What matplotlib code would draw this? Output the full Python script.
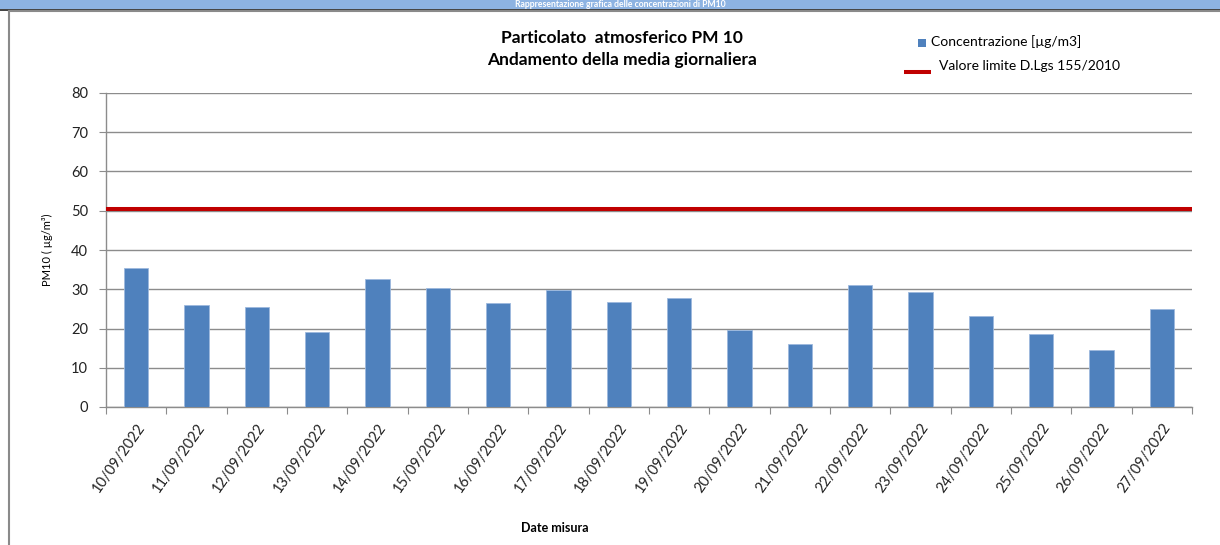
import matplotlib
matplotlib.use("Agg")
import matplotlib.pyplot as plt
from matplotlib.patches import Rectangle
from matplotlib.lines import Line2D

dates = ["10/09/2022", "11/09/2022", "12/09/2022", "13/09/2022", "14/09/2022",
         "15/09/2022", "16/09/2022", "17/09/2022", "18/09/2022", "19/09/2022",
         "20/09/2022", "21/09/2022", "22/09/2022", "23/09/2022", "24/09/2022",
         "25/09/2022", "26/09/2022", "27/09/2022"]
concentrazione = [35.5, 25.9, 25.4, 19.2, 32.6, 30.2, 26.6, 29.8, 26.8, 27.8,
                  19.7, 16.1, 31.1, 29.3, 23.2, 18.6, 14.6, 25.0]
limite = 50.5
yticks = [0, 10, 20, 30, 40, 50, 60, 70, 80]

plt.rcParams['font.family'] = ['Lato', 'DejaVu Sans']

fig = plt.figure(figsize=(12.2, 5.45), dpi=100)

# banner
fig.patches.append(Rectangle((0, 1 - 9/545), 1, 9/545, transform=fig.transFigure,
                             facecolor='#8DB3E2', edgecolor='none', zorder=0))
fig.lines.append(Line2D([0, 1], [1 - 9.5/545, 1 - 9.5/545], transform=fig.transFigure,
                        color='#202020', lw=1.2))
fig.lines.append(Line2D([8.5/1220, 1], [1 - 11/545, 1 - 11/545], transform=fig.transFigure,
                        color='#8a8a8a', lw=1.5))
fig.lines.append(Line2D([8.5/1220, 8.5/1220], [0, 1 - 11/545], transform=fig.transFigure,
                        color='#8a8a8a', lw=1.5))
fig.text(620/1220, 1 - 4.6/545, "Rappresentazione grafica delle concentrazioni di PM10",
         ha='center', va='center', color='white', fontsize=6.2, fontweight='bold')

ax = fig.add_axes([106/1220, 1 - 407/545, (1192 - 106)/1220, (407 - 93)/545])
x = list(range(len(dates)))
ax.bar(x, concentrazione, width=0.4, color='#4F81BD', edgecolor='#9DB9DE',
       linewidth=0.6, zorder=3)
ax.plot([-0.5, len(dates) - 0.5], [limite, limite], color='#C00000', lw=2.9,
        solid_capstyle='butt', zorder=4)

ax.set_xlim(-0.5, len(dates) - 0.5)
ax.set_ylim(0, 80)
ax.set_yticks(yticks)
ax.set_yticklabels([str(v) for v in yticks], fontsize=10.5, color='#222222')
ax.yaxis.grid(True, color='#8c8c8c', lw=1)
ax.set_axisbelow(True)
for s in ['top', 'right']:
    ax.spines[s].set_visible(False)
for s in ['left', 'bottom']:
    ax.spines[s].set_color('#8c8c8c')
    ax.spines[s].set_linewidth(1)
ax.tick_params(axis='y', length=5, color='#8c8c8c', pad=8)
ax.set_xticks([i - 0.5 for i in range(len(dates) + 1)], minor=False)
ax.set_xticklabels([])
ax.tick_params(axis='x', which='major', length=5, color='#8c8c8c')
ax.set_xticks(x, minor=True)
ax.set_xticklabels(dates, minor=True, rotation=55, ha='right', va='top',
                   rotation_mode='anchor', fontsize=10.5, color='#222222')
ax.tick_params(axis='x', which='minor', length=0, pad=10)

ax.set_ylabel("PM10 ( µg/m³)", fontsize=8, labelpad=13)
fig.text(555/1220, 1 - 528/545, "Date misura", ha='center', va='center',
         fontsize=9, fontweight='bold')

fig.text(622/1220, 1 - 38/545, "Particolato  atmosferico PM 10", ha='center', va='center',
         fontsize=12.5, fontweight='bold')
fig.text(622/1220, 1 - 60/545, "Andamento della media giornaliera", ha='center', va='center',
         fontsize=12.5, fontweight='bold')

# legend
fig.patches.append(Rectangle((918/1220, 1 - 46.5/545), 8/1220, 8/545, transform=fig.transFigure,
                             facecolor='#4F81BD', edgecolor='none'))
fig.text(931/1220, 1 - 42/545, "Concentrazione [µg/m3]", ha='left', va='center', fontsize=10)
fig.lines.append(Line2D([904/1220, 931/1220], [1 - 72/545, 1 - 72/545], transform=fig.transFigure,
                        color='#C00000', lw=2.9, solid_capstyle='butt'))
fig.text(939/1220, 1 - 66/545, "Valore limite D.Lgs 155/2010", ha='left', va='center', fontsize=10)

fig.savefig("out.png", dpi=100)
